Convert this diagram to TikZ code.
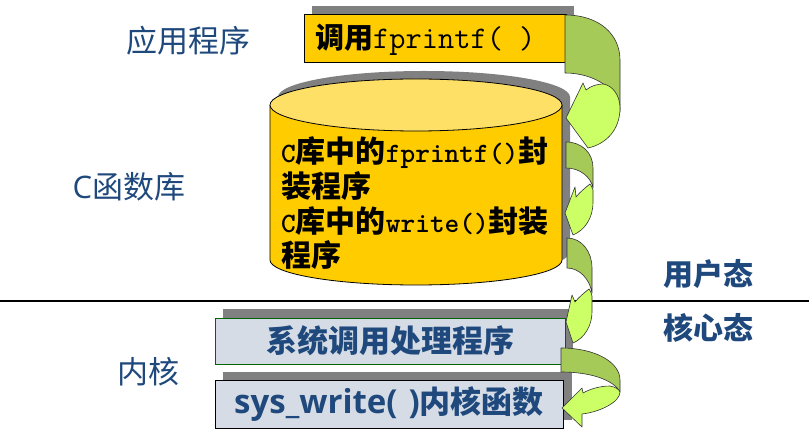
\documentclass[tikz,border=0pt]{standalone}
\usepackage{fontspec}
\newfontfamily\cjk{Noto Sans CJK SC}
\newfontfamily\osans{Open Sans}
\definecolor{txtblue}{RGB}{31,73,125}
\definecolor{ygold}{RGB}{255,204,0}
\definecolor{ylight}{RGB}{255,224,102}
\definecolor{kfill}{RGB}{214,220,229}
\definecolor{kgreen}{RGB}{0,100,0}
\definecolor{shgray}{RGB}{128,128,128}
\definecolor{gdark}{RGB}{166,202,88}
\definecolor{glight}{RGB}{204,255,102}
\newcommand{\fs}[1]{\fontsize{#1}{#1}\selectfont}
\tikzset{
  shadowbox/.style={fill=shgray, draw=none},
  ybox/.style={draw=black, line width=0.9pt, fill=ygold, inner sep=0pt},
  kbox/.style={draw=black, line width=0.9pt, fill=kfill, inner sep=0pt, text=txtblue, font=\fs{31}\cjk\bfseries},
  darkband/.style={fill=gdark, draw=black!80, line width=0.6pt, line join=round},
  lightband/.style={fill=glight, draw=black!80, line width=0.6pt, line join=round},
  lbl/.style={text=txtblue, font=\fs{31}\cjk, inner sep=0pt},
  statelbl/.style={text=txtblue, font=\fs{30}\cjk\bfseries, inner sep=0pt},
  cyltext/.style={anchor=base west, inner sep=0pt, font=\fs{30}\cjk\bfseries}
}
\begin{document}
\begin{tikzpicture}[x=1pt,y=-1pt]
\useasboundingbox (0,0) rectangle (809,443);

% dividing line
\coordinate (lineL) at (0,301);
\coordinate (lineR) at (809,301);
\draw[line width=1.2pt] (lineL) -- (lineR);

% shadows
\fill[shadowbox] (312,6) rectangle (574,54);
\fill[shadowbox] (223,309) rectangle (573,355);
\fill[shadowbox] (223,372) rectangle (572,420);
\fill[shadowbox] (278,97) -- (278,252)
   arc[start angle=180,end angle=360,x radius=146pt,y radius=25pt] -- (570,97)
   arc[start angle=0,end angle=180,x radius=146pt,y radius=26pt] -- cycle;

% top box
\node[ybox, minimum width=262pt, minimum height=48pt] (appbox) at (435,38) {};
\node[anchor=base west, inner sep=0pt] (apptext) at (315,49)
  {{\fs{29}\cjk\bfseries 调用}{\fs{31.5}\ttfamily fprintf(~)}};

% cylinder
\fill[ygold, draw=black, line width=0.8pt] (270,105) -- (270,260)
   arc[start angle=180,end angle=360,x radius=146pt,y radius=25pt] -- (562,105);
\draw[fill=ylight, line width=0.8pt] (416,105) ellipse[x radius=146pt, y radius=26pt];
\node[cyltext] (c1) at (281,163) {{\fs{28}\ttfamily C}库中的{\fs{28}\ttfamily fprintf()}封};
\node[cyltext] (c2) at (281,198) {装程序};
\node[cyltext] (c3) at (281,233) {{\fs{28}\ttfamily C}库中的{\fs{28}\ttfamily write()}封装};
\node[cyltext] (c4) at (281,267) {程序};

% kernel boxes
\node[kbox, draw=kgreen, minimum width=350pt, minimum height=46pt] (sysh) at (390,341) {系统调用处理程序};
\node[kbox, minimum width=348pt, minimum height=48pt] (sysw) at (389,404)
  {{\fs{33}\osans\bfseries sys\_write(\,\,)}内核函数};

% curved arrows
% a
\path[darkband] (565,15) .. controls (600,15) and (620,35) .. (620,60) -- (620,112)
   .. controls (620,90) and (595,73) .. (565,73) -- cycle;
\path[lightband] (583,83) -- (566,118) -- (588,148) .. controls (606,144) and (620,130) .. (620,108)
   .. controls (620,95) and (612,85) .. (603,84) .. controls (597,84) and (591,86) .. (586,90) -- cycle;
% b
\path[darkband] (566,142) .. controls (582,142) and (593,153) .. (593,168) -- (593,188)
   .. controls (591,177) and (580,168) .. (566,168) -- cycle;
\path[lightband] (575,187) -- (565,213) -- (573,235) .. controls (585,230) and (593,218) .. (593,202)
   -- (593,190) .. controls (592,187) and (591,185) .. (590,184)
   .. controls (585,188) and (580,192) .. (576,197) -- cycle;
% c
\path[darkband] (567,238) .. controls (582,238) and (592,252) .. (592,268) -- (592,293)
   .. controls (590,280) and (580,268) .. (567,268) -- cycle;
\path[lightband] (572,295) -- (566,322) -- (573,343) .. controls (585,338) and (592,325) .. (592,312)
   -- (592,296) .. controls (591,292) and (590,290) .. (589,289)
   .. controls (584,293) and (579,297) .. (575,302) -- cycle;
% d
\path[darkband] (561,348) .. controls (595,348) and (620,362) .. (620,380) -- (620,392)
   .. controls (615,382) and (595,372) .. (561,372) -- cycle;
\path[lightband] (582,388) -- (562,408) -- (582,427) -- (582,414)
   .. controls (600,412) and (620,402) .. (620,392)
   .. controls (619,389) and (615,387) .. (610,386)
   .. controls (600,386) and (590,389) .. (583,393) -- cycle;

% labels
\node[lbl] (lapp) at (188,41) {应用程序};
\node[lbl] (lclib) at (129,187) {{\osans C}函数库};
\node[lbl] (lkern) at (148,372) {内核};
\node[statelbl] (luser) at (708,274) {用户态};
\node[statelbl] (lkst) at (708,328) {核心态};
\end{tikzpicture}
\end{document}
